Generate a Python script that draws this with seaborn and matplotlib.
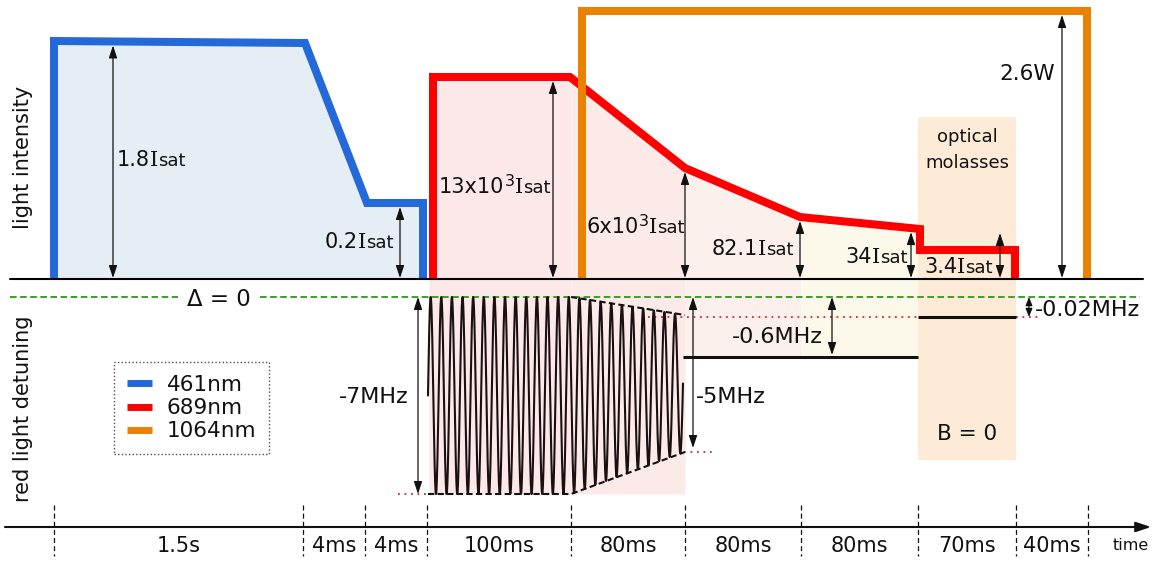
import numpy as np
import pandas as pd
import matplotlib
matplotlib.use("Agg")
import matplotlib.pyplot as plt
from matplotlib.lines import Line2D
import seaborn as sns

sns.set_theme(style="white")
plt.rcParams["font.family"] = ["DejaVu Sans", "Noto Sans"]
plt.rcParams["text.color"] = "#111111"

# ---------------- sequence timeline (schematic time positions) ----------------
phase_edges = [54, 303, 365, 427, 571, 685, 801, 918, 1016, 1088]
phase_labels = ["1.5s", "4ms", "4ms", "100ms", "80ms", "80ms", "80ms", "70ms", "40ms"]

# ---------------- laser intensity traces (schematic height above baseline) ----
lasers = ["461nm", "689nm", "1064nm"]
laser_colors = ["#2469da", "#ff0000", "#ea8100"]
blue_t = [54, 54, 305, 367, 423, 423]
blue_h = [0, 238, 236, 76, 76, 0]
red_t = [433, 433, 570, 685, 800, 920, 920, 1015, 1015]
red_h = [0, 202, 202, 111, 62, 50, 29, 29, 0]
orange_t = [582, 582, 1087, 1087]
orange_h = [0, 268, 268, 0]

# intensity annotations: arrow position, the trace it measures, and its text
int_arrow_t = [113, 400, 553, 685, 800, 911, 1000, 1062]
int_arrow_laser = ["461nm", "461nm", "689nm", "689nm", "689nm", "689nm", "689nm", "1064nm"]
int_values = ["1.8", "0.2", "13x10", "6x10", "82.1", "34", "3.4", "2.6W"]
int_power = [None, None, "3", "3", None, None, None, None]
int_unit = ["I", "I", "I", "I", "I", "I", "I", None]

# ---------------- red light detuning (schematic depth) ----------------
det_zero = -18            # resonance, Δ = 0
sweep_lo = -215           # -7 MHz broadband sweep
sweep_end_hi = -36
sweep_end_lo = -173       # -5 MHz
cmot_level = -78          # -0.6 MHz
molasses_level = -38      # -0.02 MHz
n_sweep_cycles = 24
det_labels = ["-7MHz", "-5MHz", "-0.6MHz", "-0.02MHz"]

BASE = 0
TIME_Y = -248
LW_TRACE = 8 * 0.72       # 8 px traces

fig = plt.figure(figsize=(11.62, 5.61), dpi=100)
ax = fig.add_axes([0, 0, 1, 1])
ax.set_xlim(0, 1162)
ax.set_ylim(-282, 279)
ax.axis("off")
renderer = fig.canvas.get_renderer()

red_curve_t = np.array(red_t[1:6], float)
red_curve_h = np.array(red_h[1:6], float)


def red_top(x):
    return np.interp(x, red_curve_t, red_curve_h)


# ---------------- background shading ----------------
ax.fill(blue_t, blue_h, color="#e6eef5", lw=0, zorder=1)
shade_cols = [
    (429, phase_edges[4], sweep_lo, "#fce8e8"),
    (phase_edges[4], phase_edges[5], sweep_lo, "#fceae9"),
    (phase_edges[5], phase_edges[6], cmot_level, "#fcf0ec"),
    (phase_edges[6], phase_edges[7], cmot_level, "#fcf9ea"),
]
for x0, x1, bottom, col in shade_cols:
    xs = np.linspace(x0, x1, 60)
    ax.fill_between(xs, bottom, red_top(xs), color=col, lw=0, zorder=1)
# optical molasses window
ax.fill_between([phase_edges[7], phase_edges[8]], -181, 162, color="#fdebd7", lw=0, zorder=1)
ax.text((phase_edges[7] + phase_edges[8]) / 2, 137, "optical", ha="center", va="baseline", fontsize=13, zorder=7)
ax.text((phase_edges[7] + phase_edges[8]) / 2, 111, "molasses", ha="center", va="baseline", fontsize=13, zorder=7)
ax.text((phase_edges[7] + phase_edges[8]) / 2, -155, "B = 0", ha="center", va="center", fontsize=15.5, zorder=7)

# ---------------- laser traces ----------------
traces = pd.DataFrame({
    "t": blue_t + red_t + orange_t,
    "h": blue_h + red_h + orange_h,
    "laser": ["461nm"] * len(blue_t) + ["689nm"] * len(red_t) + ["1064nm"] * len(orange_t),
})
for laser, col, z in zip(lasers, laser_colors, [4, 4.5, 5]):
    sub = traces[traces["laser"] == laser]
    sns.lineplot(data=sub, x="t", y="h", sort=False, estimator=None, color=col,
                 linewidth=LW_TRACE, ax=ax, legend=False, zorder=z)
for ln in ax.lines:
    ln.set_solid_joinstyle("miter")
    ln.set_solid_capstyle("butt")

# intensity baseline
ax.plot([10, 1143], [BASE, BASE], color="black", lw=1.5, zorder=6)

# ---------------- helpers ----------------
def varrow(x, y0, y1, small=False):
    hl, hw = (0.5, 0.2) if small else (0.75, 0.25)
    ax.annotate("", xy=(x, y1), xytext=(x, y0),
                arrowprops=dict(arrowstyle=f"<|-|>,head_length={hl},head_width={hw}",
                                color="#111111", lw=0.9, shrinkA=0, shrinkB=0,
                                mutation_scale=10),
                zorder=7)


def seg_text(x, y, segments):
    for s, size, dy, fam in segments:
        t = ax.text(x, y + dy, s, fontsize=size, ha="left", va="baseline", zorder=7,
                    family=fam)
        x += t.get_window_extent(renderer).width


trace_lookup = {
    "461nm": (np.array(blue_t[1:-1], float), np.array(blue_h[1:-1], float)),
    "689nm": (red_curve_t, red_curve_h),
    "1064nm": (np.array(orange_t[1:-1], float), np.array(orange_h[1:-1], float)),
}
int_label_pos = [(117, 113), (325, 31), (439, 86), (587, 46), (712, 24), (845, 16), (924, 6), (999, 199)]
MAIN, SUB, SUP = 15, 13, 11.5
SANS, SERIF = ["DejaVu Sans"], ["DejaVu Serif"]
for xa, laser, val, pw, unit, (lx, ly) in zip(int_arrow_t, int_arrow_laser, int_values,
                                               int_power, int_unit, int_label_pos):
    tt, hh = trace_lookup[laser]
    top = np.interp(xa, tt, hh) - LW_TRACE / 0.72 / 2
    varrow(xa, BASE + 1, top, small=(top < 30))
    segs = [(val, MAIN if unit else 15.5, 0, SANS)]
    if pw:
        segs.append((pw, SUP, 7, SANS))
    if unit:
        segs += [(unit, MAIN, 0, SERIF), ("sat", SUB, 0, SANS)]
    seg_text(lx, ly, segs)

# ---------------- detuning panel ----------------
green = "#3a9f2a"
for x0, x1 in [(10, 178), (260, 1140)]:
    ax.plot([x0, x1], [det_zero, det_zero], color=green, lw=1.4,
            dashes=(3.4, 1.8), zorder=2)
ax.text(219, det_zero - 2, "Δ = 0", ha="center", va="center", fontsize=16.5, zorder=7)

# broadband frequency-modulated sweep
s0, s1, s2 = 428, phase_edges[4], 683
xs = np.linspace(s0, s2, 4000)
env_hi = np.interp(xs, [s0, s1, s2], [det_zero, det_zero, sweep_end_hi])
env_lo = np.interp(xs, [s0, s1, s2], [sweep_lo, sweep_lo, sweep_end_lo])
phase = 2 * np.pi * n_sweep_cycles * (xs - s0) / (s2 - s0)
sweep = (env_hi + env_lo) / 2 + (env_hi - env_lo) / 2 * np.sin(phase)
ax.plot(xs, sweep, color="#1a1010", lw=1.5, zorder=3)
ax.plot([s1, s2 + 2], [det_zero, sweep_end_hi], color="#111111", lw=1.5, dashes=(3, 1.6), zorder=3)
ax.plot([s0, s1, s2 + 2], [sweep_lo, sweep_lo, sweep_end_lo], color="#111111", lw=1.5,
        dashes=(3, 1.6), zorder=3)

# single-frequency stages
ax.plot([683, phase_edges[7]], [cmot_level, cmot_level], color="#111111", lw=2.2,
        solid_capstyle="butt", zorder=3)
ax.plot([phase_edges[7], phase_edges[8]], [molasses_level, molasses_level], color="#111111",
        lw=2.2, solid_capstyle="butt", zorder=3)

# red reference dots
dot_kw = dict(color="#d42a2a", lw=1.3, dashes=(1, 2.6), zorder=2)
ax.plot([648, phase_edges[7]], [molasses_level, molasses_level], **dot_kw)
ax.plot([phase_edges[8], 1040], [molasses_level, molasses_level], **dot_kw)
ax.plot([684, 713], [sweep_end_lo, sweep_end_lo], **dot_kw)
ax.plot([398, 429], [sweep_lo, sweep_lo], **dot_kw)

# detuning arrows
det_arrow_t = [418, 693, 832, 1029]
det_arrow_bottom = [sweep_lo, sweep_end_lo + 4, cmot_level + 2, molasses_level]
det_label_pos = [(339, -118), (696, -118), (732, -58), (1035, -31)]
for xa, yb, lab, (lx, ly) in zip(det_arrow_t, det_arrow_bottom, det_labels, det_label_pos):
    varrow(xa, det_zero, yb, small=(det_zero - yb) < 30)
    ax.text(lx, ly, lab, ha="left", va="center", fontsize=16, zorder=7)

# ---------------- time axis ----------------
ax.annotate("", xy=(1151, TIME_Y), xytext=(5, TIME_Y),
            arrowprops=dict(arrowstyle="-|>,head_length=0.9,head_width=0.3", color="#111111",
                            lw=1.5, shrinkA=0, shrinkB=0, mutation_scale=10), zorder=6)
for xe in phase_edges:
    ax.plot([xe, xe], [-226, -277], color="#111111", lw=0.9, dashes=(4, 2.5), zorder=6)
for x0, x1, lab in zip(phase_edges[:-1], phase_edges[1:], phase_labels):
    ax.text((x0 + x1) / 2, -273, lab, ha="center", va="baseline", fontsize=15, zorder=7)
ax.text(1131, -271, "time", ha="center", va="baseline", fontsize=11.5, zorder=7)

# axis titles
ax.text(23, 122, "light intensity", rotation=90, ha="center", va="center", fontsize=15, zorder=7)
ax.text(23, -130, "red light detuning", rotation=90, ha="center", va="center", fontsize=15, zorder=7)

# ---------------- legend ----------------
handles = [Line2D([0], [0], color=c, lw=5, solid_capstyle="butt") for c in laser_colors]
leg = ax.legend(handles, lasers, loc="upper left", bbox_to_anchor=(114, -83),
                bbox_transform=ax.transData, fontsize=15.5, frameon=True, fancybox=False,
                borderpad=0.6, handlelength=1.15, handletextpad=0.7, labelspacing=0.15,
                borderaxespad=0)
fr = leg.get_frame()
fr.set_edgecolor("#222222")
fr.set_linewidth(1.0)
fr.set_linestyle((0, (1, 1.6)))
fr.set_facecolor("white")
leg.set_zorder(8)

fig.savefig("out.png", dpi=100)
